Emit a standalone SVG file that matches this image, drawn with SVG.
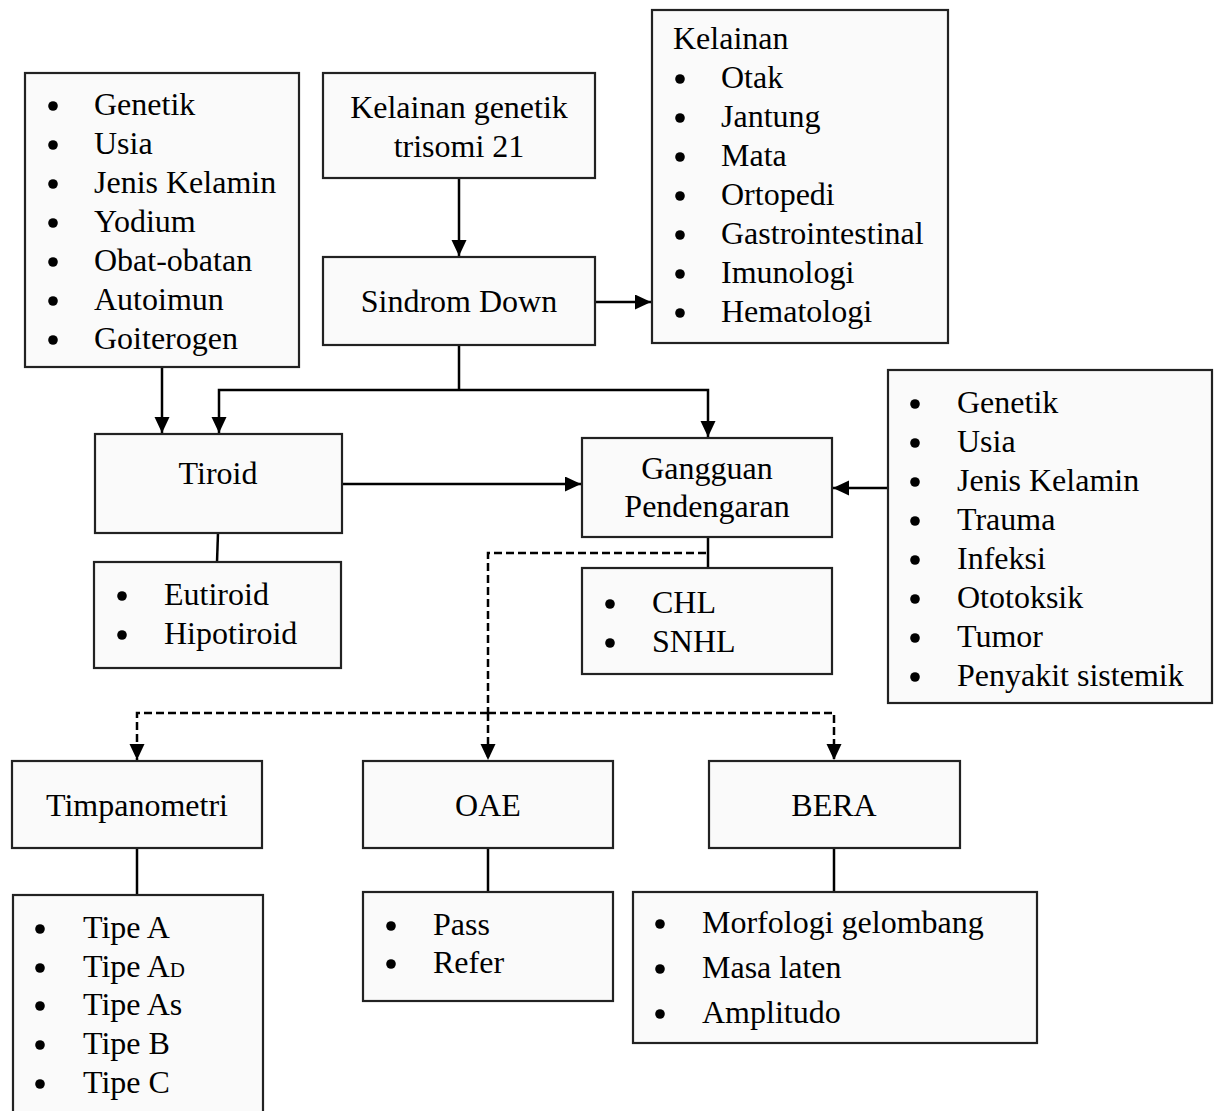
<svg xmlns="http://www.w3.org/2000/svg" width="1217" height="1111" viewBox="0 0 1217 1111">
<style>
.box{fill:#fafafa;stroke:#222;stroke-width:2.2}
.t{font-family:"Liberation Serif","Times New Roman",serif;font-size:32px;fill:#000}
.c{text-anchor:middle}
.b{fill:#000}
.ln{fill:none;stroke:#000;stroke-width:2.5}
.dl{fill:none;stroke:#000;stroke-width:2.5;stroke-dasharray:8,4}
</style>
<defs>
<marker id="ah" markerUnits="userSpaceOnUse" markerWidth="17" markerHeight="16" refX="16" refY="7.5" orient="auto">
<path d="M0,0 L16,7.5 L0,15 z" fill="#000"/>
</marker>
</defs>
<rect width="1217" height="1111" fill="#fff"/>

<g id="connectors">
<line class="ln" x1="459" y1="178" x2="459" y2="256" marker-end="url(#ah)"/>
<line class="ln" x1="595" y1="302" x2="651" y2="302" marker-end="url(#ah)"/>
<line class="ln" x1="162" y1="367" x2="162" y2="433" marker-end="url(#ah)"/>
<polyline class="ln" points="459,345 459,390"/>
<polyline class="ln" points="459,390 219,390 219,433" marker-end="url(#ah)"/>
<polyline class="ln" points="459,390 708,390 708,437" marker-end="url(#ah)"/>
<line class="ln" x1="342" y1="484" x2="581" y2="484" marker-end="url(#ah)"/>
<line class="ln" x1="888" y1="488" x2="833" y2="488" marker-end="url(#ah)"/>
<line class="ln" x1="218" y1="533" x2="217" y2="562"/>
<line class="ln" x1="708" y1="537" x2="708" y2="568"/>
<polyline class="dl" points="706,553 488,553 488,713"/>
<polyline class="dl" points="488,713 137,713 137,760" marker-end="url(#ah)"/>
<line class="dl" x1="488" y1="713" x2="488" y2="760" marker-end="url(#ah)"/>
<polyline class="dl" points="488,713 834,713 834,760" marker-end="url(#ah)"/>
<line class="ln" x1="137" y1="848" x2="137" y2="895"/>
<line class="ln" x1="488" y1="848" x2="488" y2="892"/>
<line class="ln" x1="834" y1="848" x2="834" y2="892"/>
</g>

<g id="faktor-tiroid">
<rect class="box" x="25" y="73" width="274" height="294"/>
<g class="b"><circle cx="53" cy="106" r="4.8"/><circle cx="53" cy="145" r="4.8"/><circle cx="53" cy="184" r="4.8"/><circle cx="53" cy="223" r="4.8"/><circle cx="53" cy="262" r="4.8"/><circle cx="53" cy="301" r="4.8"/><circle cx="53" cy="340" r="4.8"/></g>
<text class="t" x="94" y="115">Genetik</text>
<text class="t" x="94" y="154">Usia</text>
<text class="t" x="94" y="193">Jenis Kelamin</text>
<text class="t" x="94" y="232">Yodium</text>
<text class="t" x="94" y="271">Obat-obatan</text>
<text class="t" x="94" y="310">Autoimun</text>
<text class="t" x="94" y="349">Goiterogen</text>
</g>

<g id="trisomi">
<rect class="box" x="323" y="73" width="272" height="105"/>
<text class="t c" x="459" y="118">Kelainan genetik</text>
<text class="t c" x="459" y="157">trisomi 21</text>
</g>

<g id="sindrom-down">
<rect class="box" x="323" y="257" width="272" height="88"/>
<text class="t c" x="459" y="312">Sindrom Down</text>
</g>

<g id="kelainan">
<rect class="box" x="652" y="10" width="296" height="333"/>
<text class="t" x="673" y="49">Kelainan</text>
<g class="b"><circle cx="680" cy="79" r="4.8"/><circle cx="680" cy="118" r="4.8"/><circle cx="680" cy="157" r="4.8"/><circle cx="680" cy="196" r="4.8"/><circle cx="680" cy="235" r="4.8"/><circle cx="680" cy="274" r="4.8"/><circle cx="680" cy="313" r="4.8"/></g>
<text class="t" x="721" y="88">Otak</text>
<text class="t" x="721" y="127">Jantung</text>
<text class="t" x="721" y="166">Mata</text>
<text class="t" x="721" y="205">Ortopedi</text>
<text class="t" x="721" y="244">Gastrointestinal</text>
<text class="t" x="721" y="283">Imunologi</text>
<text class="t" x="721" y="322">Hematologi</text>
</g>

<g id="tiroid">
<rect class="box" x="95" y="434" width="247" height="99"/>
<text class="t c" x="218" y="484">Tiroid</text>
</g>

<g id="tiroid-jenis">
<rect class="box" x="94" y="562" width="247" height="106"/>
<g class="b"><circle cx="122" cy="596" r="4.8"/><circle cx="122" cy="635" r="4.8"/></g>
<text class="t" x="164" y="605">Eutiroid</text>
<text class="t" x="164" y="644">Hipotiroid</text>
</g>

<g id="gangguan">
<rect class="box" x="582" y="438" width="250" height="99"/>
<text class="t c" x="707" y="479">Gangguan</text>
<text class="t c" x="707" y="517">Pendengaran</text>
</g>

<g id="gangguan-jenis">
<rect class="box" x="582" y="568" width="250" height="106"/>
<g class="b"><circle cx="610" cy="604" r="4.8"/><circle cx="610" cy="643" r="4.8"/></g>
<text class="t" x="652" y="613">CHL</text>
<text class="t" x="652" y="652">SNHL</text>
</g>

<g id="faktor-pendengaran">
<rect class="box" x="888" y="370" width="324" height="333"/>
<g class="b"><circle cx="915" cy="404" r="4.8"/><circle cx="915" cy="443" r="4.8"/><circle cx="915" cy="482" r="4.8"/><circle cx="915" cy="521" r="4.8"/><circle cx="915" cy="560" r="4.8"/><circle cx="915" cy="599" r="4.8"/><circle cx="915" cy="638" r="4.8"/><circle cx="915" cy="677" r="4.8"/></g>
<text class="t" x="957" y="413">Genetik</text>
<text class="t" x="957" y="452">Usia</text>
<text class="t" x="957" y="491">Jenis Kelamin</text>
<text class="t" x="957" y="530">Trauma</text>
<text class="t" x="957" y="569">Infeksi</text>
<text class="t" x="957" y="608">Ototoksik</text>
<text class="t" x="957" y="647">Tumor</text>
<text class="t" x="957" y="686">Penyakit sistemik</text>
</g>

<g id="timpanometri">
<rect class="box" x="12" y="761" width="250" height="87"/>
<text class="t c" x="137" y="816">Timpanometri</text>
</g>

<g id="timpanometri-tipe">
<rect class="box" x="13" y="895" width="250" height="230"/>
<g class="b"><circle cx="40" cy="929" r="4.8"/><circle cx="40" cy="968" r="4.8"/><circle cx="40" cy="1006" r="4.8"/><circle cx="40" cy="1045" r="4.8"/><circle cx="40" cy="1084" r="4.8"/></g>
<text class="t" x="83" y="938">Tipe A</text>
<text class="t" x="83" y="977">Tipe A<tspan font-size="21">D</tspan></text>
<text class="t" x="83" y="1015">Tipe As</text>
<text class="t" x="83" y="1054">Tipe B</text>
<text class="t" x="83" y="1093">Tipe C</text>
</g>

<g id="oae">
<rect class="box" x="363" y="761" width="250" height="87"/>
<text class="t c" x="488" y="816">OAE</text>
</g>

<g id="oae-hasil">
<rect class="box" x="363" y="892" width="250" height="109"/>
<g class="b"><circle cx="391" cy="926" r="4.8"/><circle cx="391" cy="964" r="4.8"/></g>
<text class="t" x="433" y="935">Pass</text>
<text class="t" x="433" y="973">Refer</text>
</g>

<g id="bera">
<rect class="box" x="709" y="761" width="251" height="87"/>
<text class="t c" x="834" y="816">BERA</text>
</g>

<g id="bera-hasil">
<rect class="box" x="633" y="892" width="404" height="151"/>
<g class="b"><circle cx="660" cy="924" r="4.8"/><circle cx="660" cy="969" r="4.8"/><circle cx="660" cy="1014" r="4.8"/></g>
<text class="t" x="702" y="933">Morfologi gelombang</text>
<text class="t" x="702" y="978">Masa laten</text>
<text class="t" x="702" y="1023">Amplitudo</text>
</g>
</svg>
